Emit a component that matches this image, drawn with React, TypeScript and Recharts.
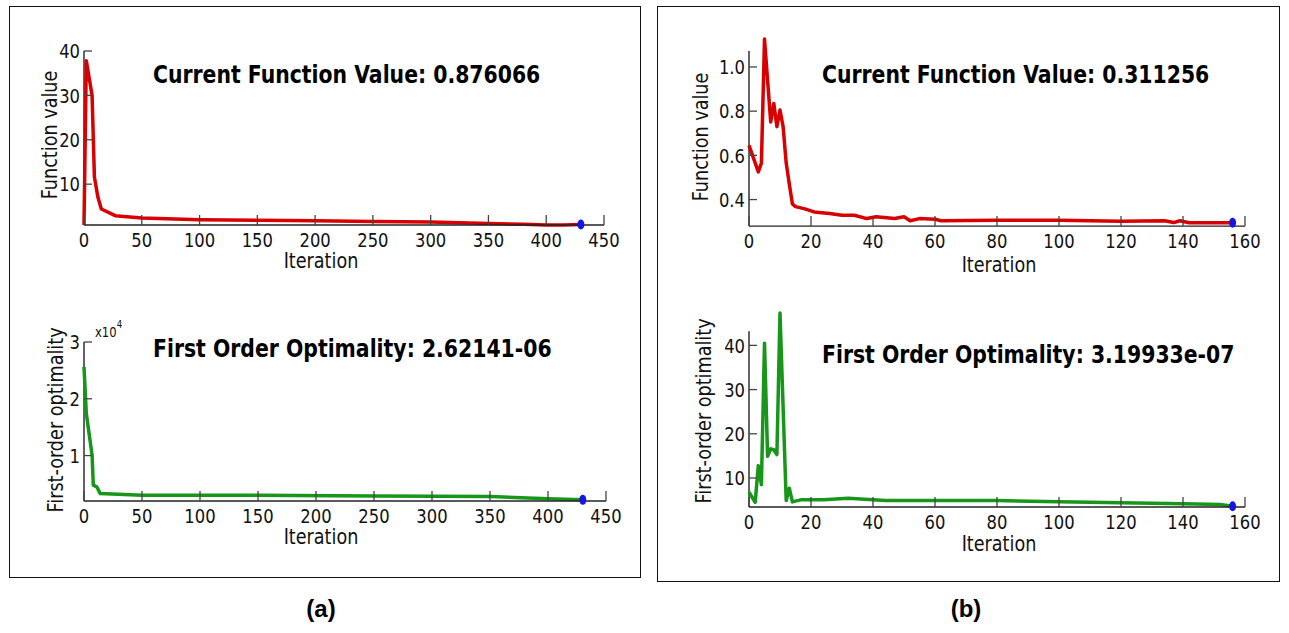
import React from 'react';
import { LineChart, Line, XAxis, YAxis, ReferenceLine, ReferenceDot } from 'recharts';

// (a) run: 430 iterations
const iterFvalA = [0, 2, 7, 9, 12, 15, 27, 50, 100, 150, 200, 250, 300, 350, 380, 400, 415, 430];
const fvalA = [0.8, 37.8, 30, 11.6, 7.1, 4.4, 2.9, 2.4, 2.0, 1.85, 1.77, 1.6, 1.47, 1.15, 0.95, 0.82, 0.82, 0.9];
const iterOptA = [0, 2, 7, 8, 11, 14, 50, 150, 250, 350, 400, 430];
const optA = [2.56, 1.74, 1.0, 0.48, 0.45, 0.33, 0.3, 0.3, 0.29, 0.28, 0.24, 0.22]; // x10^4

// (b) run: 156 iterations
const iterFvalB = [0, 3, 4, 5, 7, 8, 9, 10, 11, 12, 13, 14, 15, 18, 21, 26, 30, 34, 38, 41, 47, 50, 52, 55, 60, 62, 80, 100, 120, 134, 137, 139, 142, 156];
const fvalB = [0.645, 0.525, 0.565, 1.126, 0.751, 0.835, 0.73, 0.805, 0.73, 0.565, 0.47, 0.38, 0.368, 0.358, 0.344, 0.337, 0.329, 0.329, 0.314, 0.322, 0.314, 0.322, 0.304, 0.314, 0.311, 0.304, 0.307, 0.307, 0.302, 0.304, 0.296, 0.304, 0.295, 0.295];
const iterOptB = [0, 2, 3, 4, 5, 6, 7, 8, 9, 10, 12, 13, 14, 17, 24, 32, 44, 60, 80, 100, 120, 140, 152, 156];
const optB = [6.8, 4.5, 12.8, 8.5, 40.5, 14.9, 16.6, 16.4, 15.3, 47.3, 4.9, 7.7, 4.6, 5.1, 5.1, 5.4, 4.9, 4.9, 4.9, 4.65, 4.4, 4.2, 4.0, 3.6];

const ticksItA = [0, 50, 100, 150, 200, 250, 300, 350, 400, 450];
const ticksItB = [0, 20, 40, 60, 80, 100, 120, 140, 160];
const ticksFvalA = [10, 20, 30, 40];
const ticksOptA = [1, 2, 3];
const ticksFvalB = [0.4, 0.6, 0.8, 1.0];
const ticksOptB = [10, 20, 30, 40];

const FONT = 'DejaVu Sans';
const SQ = 0.86; // glyphs in the figure are narrower than DejaVu
const TSQ = 0.82;
const TS = 10;
const TM = 6;
const ML = 60, MT = 15, MR = 30, MB = 40;

function XTick(props: any) {
  const { x, y, payload } = props;
  const axisY = y - TS - TM;
  return (
    <g>
      <line x1={x} x2={x} y1={axisY} y2={axisY - 10} stroke="#444" strokeWidth={1.3} />
      <text transform={`translate(${x},${axisY + 22}) scale(${TSQ},1)`} textAnchor="middle" fontSize={20} fontFamily={FONT} fill="#111">
        {payload.value}
      </text>
    </g>
  );
}

const yTick = (fmt: (v: number) => string) => (props: any) => {
  const { x, y, payload } = props;
  const axisX = x + TS + TM;
  return (
    <g>
      <line x1={axisX} x2={axisX + 8} y1={y} y2={y} stroke="#444" strokeWidth={1.3} />
      <text transform={`translate(${axisX - 4},${y + 7.3}) scale(${TSQ},1)`} textAnchor="end" fontSize={20} fontFamily={FONT} fill="#111">
        {fmt(payload.value)}
      </text>
    </g>
  );
};

interface PlotProps {
  xs: number[];
  ys: number[];
  color: string;
  xMax: number;
  xTicks: number[];
  yDomain: [number, number];
  yTop: number;
  yTicks: number[];
  yFmt: (v: number) => string;
  box: { left: number; right: number; top: number; bottom: number };
}

function Plot({ xs, ys, color, xMax, xTicks, yDomain, yTop, yTicks, yFmt, box }: PlotProps) {
  const rows = xs.map((it, i) => ({ it, v: ys[i] }));
  const last = xs.length - 1;
  return (
    <div style={{ position: 'absolute', left: box.left - ML, top: box.top - MT }}>
      <LineChart
        width={box.right - box.left + ML + MR}
        height={box.bottom - box.top + MT + MB}
        data={rows}
        margin={{ top: MT, right: MR, bottom: MB - 30, left: 0 }}
      >
        <XAxis
          dataKey="it"
          type="number"
          domain={[0, xMax]}
          ticks={xTicks}
          interval={0}
          height={30}
          tickSize={TS}
          tickMargin={TM}
          tickLine={false}
          tick={XTick}
          axisLine={{ stroke: '#222', strokeWidth: 1.4 }}
        />
        <YAxis
          type="number"
          domain={yDomain}
          ticks={yTicks}
          interval={0}
          width={ML}
          tickSize={TS}
          tickMargin={TM}
          tickLine={false}
          axisLine={false}
          tick={yTick(yFmt)}
        />
        <ReferenceLine segment={[{ x: 0, y: yDomain[0] }, { x: 0, y: yTop }]} stroke="#222" strokeWidth={1.4} />
        <Line type="linear" dataKey="v" stroke={color} strokeWidth={3.5} dot={false} isAnimationActive={false} strokeLinejoin="round" />
        <ReferenceDot
          x={xs[last]}
          y={ys[last]}
          shape={(p: any) => <ellipse cx={p.cx} cy={p.cy} rx={3.5} ry={5} fill="#1515e8" />}
        />
      </LineChart>
    </div>
  );
}

const intFmt = (v: number) => String(v);
const decFmt = (v: number) => v.toFixed(1);

function Overlay() {
  const title = (x: number, y: number, s: string) => (
    <text transform={`translate(${x},${y}) scale(0.85,1)`} fontSize={24} fontWeight="bold" fontFamily={FONT} fill="#000">
      {s}
    </text>
  );
  const xLabel = (x: number, y: number) => (
    <text transform={`translate(${x},${y}) scale(${SQ},1)`} textAnchor="middle" fontSize={20.5} fontFamily={FONT} fill="#111">
      Iteration
    </text>
  );
  const yLabel = (x: number, y: number, s: string) => (
    <text transform={`translate(${x},${y}) rotate(-90) scale(${SQ},1)`} y={7.5} textAnchor="middle" fontSize={20.5} fontFamily={FONT} fill="#111">
      {s}
    </text>
  );
  return (
    <svg width={1289} height={633} style={{ position: 'absolute', left: 0, top: 0, pointerEvents: 'none' }}>
      {title(153, 83, 'Current Function Value: 0.876066')}
      {title(153, 357, 'First Order Optimality: 2.62141-06')}
      {title(822, 83, 'Current Function Value: 0.311256')}
      {title(822, 363, 'First Order Optimality: 3.19933e-07')}
      {xLabel(321, 268)}
      {xLabel(321, 544)}
      {xLabel(999, 271.5)}
      {xLabel(999, 550.5)}
      {yLabel(49, 135, 'Function value')}
      {yLabel(55, 420, 'First-order optimality')}
      {yLabel(700, 137, 'Function value')}
      {yLabel(703, 411, 'First-order optimality')}
      <text transform={`translate(95,336.5) scale(${SQ},1)`} fontSize={13.5} fontFamily={FONT} fill="#111">
        x10<tspan fontSize={10} dy={-9}>4</tspan>
      </text>
      <text x={321} y={617} textAnchor="middle" fontSize={24} fontWeight="bold" fontFamily="Liberation Sans, Arial" fill="#000">(a)</text>
      <text x={966} y={617} textAnchor="middle" fontSize={24} fontWeight="bold" fontFamily="Liberation Sans, Arial" fill="#000">(b)</text>
    </svg>
  );
}

export default function App() {
  return (
    <div style={{ position: 'absolute', left: 0, top: 0, width: 1289, height: 633, background: '#fff', overflow: 'hidden' }}>
      <div style={{ position: 'absolute', left: 9, top: 6, width: 632, height: 572, border: '1.5px solid #111', boxSizing: 'border-box' }} />
      <div style={{ position: 'absolute', left: 657, top: 6, width: 623, height: 576, border: '1.5px solid #111', boxSizing: 'border-box' }} />

      <Plot xs={iterFvalA} ys={fvalA} color="#d80000" xMax={450} xTicks={ticksItA} yDomain={[0.8, 40]} yTop={40} yTicks={ticksFvalA} yFmt={intFmt} box={{ left: 84, right: 604, top: 51, bottom: 225 }} />
      <Plot xs={iterOptA} ys={optA} color="#17961a" xMax={450} xTicks={ticksItA} yDomain={[0.2, 3]} yTop={3} yTicks={ticksOptA} yFmt={intFmt} box={{ left: 84, right: 606, top: 342, bottom: 501 }} />
      <Plot xs={iterFvalB} ys={fvalB} color="#d80000" xMax={160} xTicks={ticksItB} yDomain={[0.28, 1.14]} yTop={1.072} yTicks={ticksFvalB} yFmt={decFmt} box={{ left: 749, right: 1245, top: 36.4, bottom: 226.5 }} />
      <Plot xs={iterOptB} ys={optB} color="#17961a" xMax={160} xTicks={ticksItB} yDomain={[3.44, 48]} yTop={43.2} yTicks={ticksOptB} yFmt={intFmt} box={{ left: 749, right: 1245, top: 310, bottom: 507 }} />

      <Overlay />
    </div>
  );
}
